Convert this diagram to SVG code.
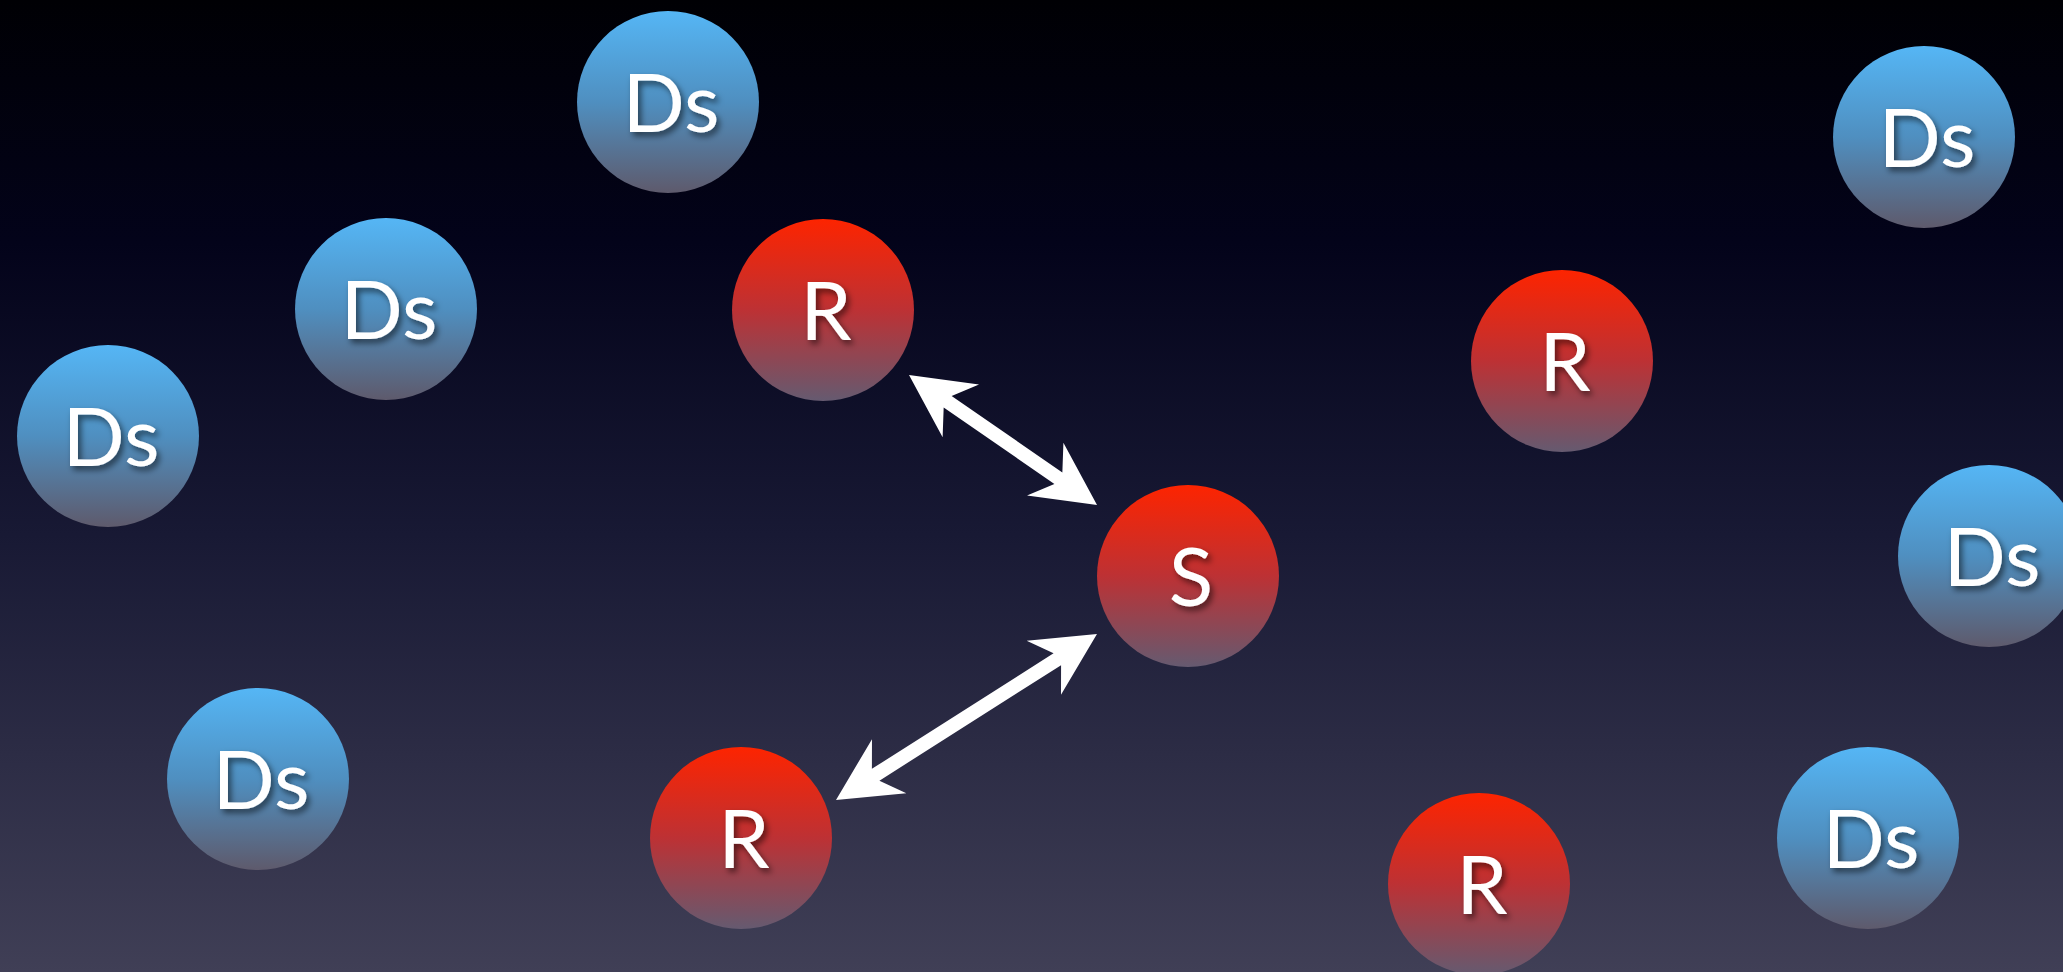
<svg xmlns="http://www.w3.org/2000/svg" width="2063" height="972" viewBox="0 0 2063 972">
<defs>
<linearGradient id="bg" x1="0" y1="0" x2="0" y2="1">
<stop offset="0" stop-color="#000004"/>
<stop offset="0.25" stop-color="#03031a"/>
<stop offset="0.55" stop-color="#181934"/>
<stop offset="1" stop-color="#403f56"/>
</linearGradient>
<linearGradient id="blue" x1="0" y1="0" x2="0" y2="1">
<stop offset="0" stop-color="#55b6f5"/>
<stop offset="0.5" stop-color="#4f8fc0"/>
<stop offset="1" stop-color="#5e5a6c"/>
</linearGradient>
<linearGradient id="red" x1="0" y1="0" x2="0" y2="1">
<stop offset="0" stop-color="#fd2400"/>
<stop offset="0.5" stop-color="#bd3134"/>
<stop offset="1" stop-color="#655a70"/>
</linearGradient>
<filter id="sh" x="-30%" y="-30%" width="160%" height="160%">
<feDropShadow dx="3" dy="4" stdDeviation="3" flood-color="#000" flood-opacity="0.55"/>
</filter>
</defs>
<style>
.ds{fill:url(#blue)}
.r{fill:url(#red)}
.t{font-family:Lato,"Open Sans","Liberation Sans",sans-serif;font-size:82px;fill:#fff;text-anchor:middle;filter:url(#sh)}
.arr{fill:#fff}
</style>
<rect x="0" y="0" width="2063" height="972" fill="url(#bg)"/>
<g id="connectors">
<polygon class="arr" transform="translate(909,375) rotate(34.66)" points="0,0 63,-32 47,-7 181.6,-7 165.6,-32 228.6,0 165.6,32 181.6,7 47,7 63,32"/>
<polygon class="arr" transform="translate(836,800) rotate(-32.46)" points="0,0 63,-32 47,-7 262.3,-7 246.3,-32 309.3,0 246.3,32 262.3,7 47,7 63,32"/>
</g>
<g id="ds1"><circle class="ds" cx="668" cy="102" r="91"/><text class="t" x="671" y="132">Ds</text></g>
<g id="ds2"><circle class="ds" cx="1924" cy="137" r="91"/><text class="t" x="1927" y="167">Ds</text></g>
<g id="ds3"><circle class="ds" cx="386" cy="309" r="91"/><text class="t" x="389" y="339">Ds</text></g>
<g id="ds4"><circle class="ds" cx="108" cy="436" r="91"/><text class="t" x="111" y="466">Ds</text></g>
<g id="ds5"><circle class="ds" cx="1989" cy="556" r="91"/><text class="t" x="1992" y="586">Ds</text></g>
<g id="ds6"><circle class="ds" cx="258" cy="779" r="91"/><text class="t" x="261" y="809">Ds</text></g>
<g id="ds7"><circle class="ds" cx="1868" cy="838" r="91"/><text class="t" x="1871" y="868">Ds</text></g>
<g id="r1"><circle class="r" cx="823" cy="310" r="91"/><text class="t" x="826" y="340">R</text></g>
<g id="r2"><circle class="r" cx="1562" cy="361" r="91"/><text class="t" x="1565" y="391">R</text></g>
<g id="r3"><circle class="r" cx="741" cy="838" r="91"/><text class="t" x="744" y="868">R</text></g>
<g id="r4"><circle class="r" cx="1479" cy="884" r="91"/><text class="t" x="1482" y="914">R</text></g>
<g id="s"><circle class="r" cx="1188" cy="576" r="91"/><text class="t" x="1191" y="606">S</text></g>
</svg>
